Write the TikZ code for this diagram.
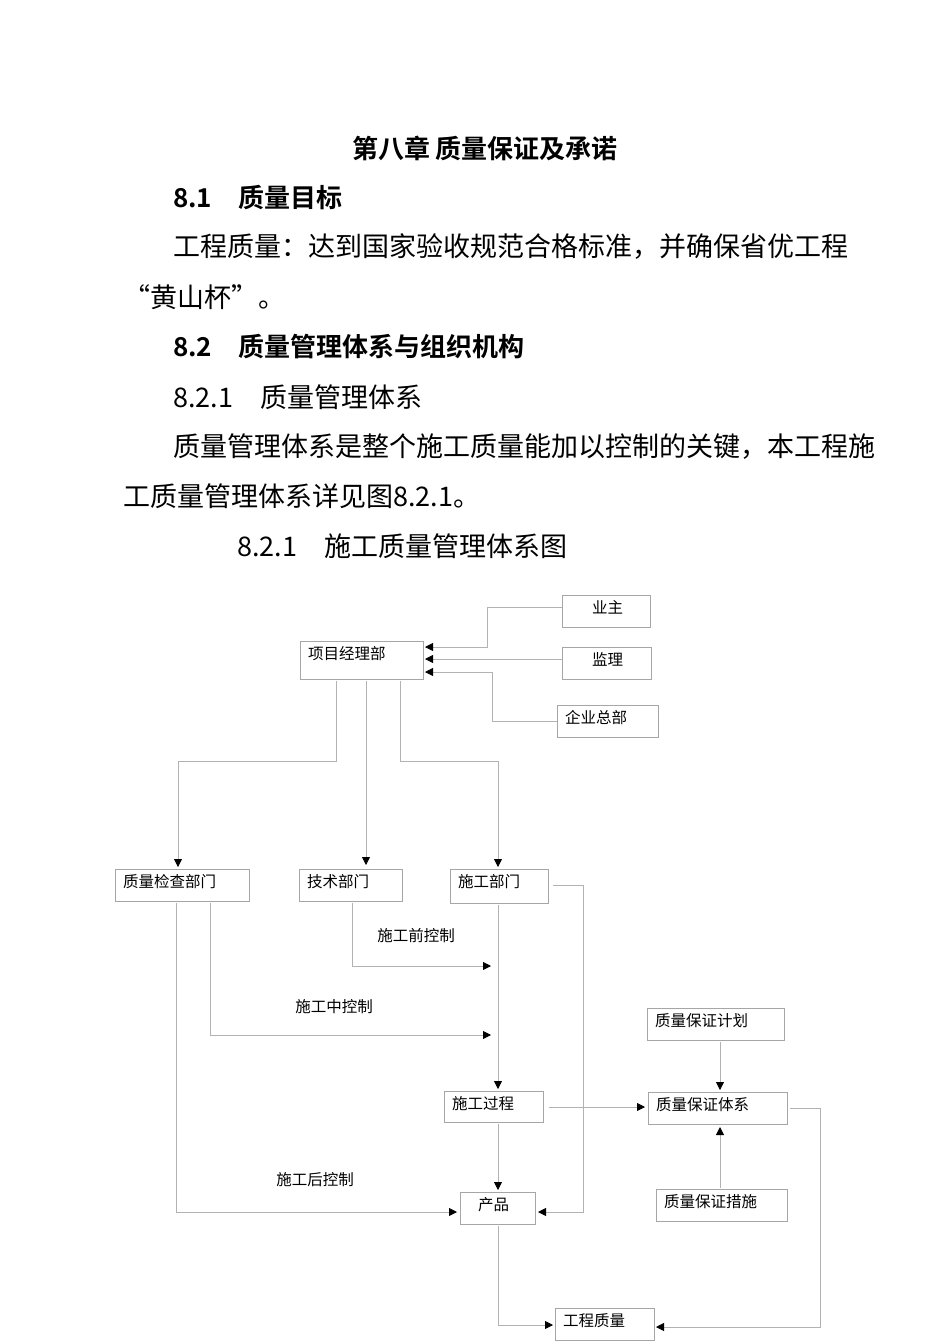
\documentclass[tikz,border=0pt]{standalone}
\usepackage{fontspec}
\setmainfont{Noto Sans CJK SC}
\newfontfamily\cjkb{Noto Sans CJK SC Bold}
\usetikzlibrary{arrows.meta}
\begin{document}
\begin{tikzpicture}[x=1pt,y=-1pt,
 bx/.style={draw=gray!70,line width=0.8pt},
 bt/.style={anchor=north west,font=\fontsize{15.5}{17}\selectfont,inner sep=0pt},
 ln/.style={draw=gray!60,line width=0.8pt},
 ar/.style={ln,-{Triangle[length=8pt,width=8pt,black]}},
 body/.style={anchor=west,inner sep=0pt,font=\fontsize{27}{30}\selectfont},
 lab/.style={font=\fontsize{15.5}{17}\selectfont,inner sep=0pt}]
\useasboundingbox (0,0) rectangle (950,1344);
\node[body,anchor=center,font=\cjkb\fontsize{26}{30}\selectfont] (t0) at (485,148) {第八章 质量保证及承诺};
\node[body,font=\cjkb\fontsize{26}{30}\selectfont] (t1) at (173,198) {8.1\hspace{1em}质量目标};
\node[body] (t2) at (173,247) {工程质量：达到国家验收规范合格标准，并确保省优工程};
\node[body] (t3) at (123,297) {“黄山杯”。};
\node[body,font=\cjkb\fontsize{26}{30}\selectfont] (t4) at (173,347) {8.2\hspace{1em}质量管理体系与组织机构};
\node[body] (t5) at (173,397) {8.2.1\hspace{1em}质量管理体系};
\node[body] (t6) at (173,447) {质量管理体系是整个施工质量能加以控制的关键，本工程施};
\node[body] (t7) at (123,496) {工质量管理体系详见图8.2.1。};
\node[body] (t8) at (237,546) {8.2.1\hspace{1em}施工质量管理体系图};
% boxes
\newcommand\mybox[6]{\draw[bx] (#2,#3) rectangle (#4,#5); \node[bt] (#1) at (#2+8,#3+5) {#6}; \coordinate (#1a) at (#2,#3); \coordinate (#1b) at (#4,#5);}
\mybox{yz}{562}{595}{650}{627}{\hspace{22pt}业主}
\mybox{jl}{562}{647}{651}{679}{\hspace{22pt}监理}
\mybox{qy}{557}{705}{658}{737}{企业总部}
\mybox{xm}{300}{641}{423}{679}{项目经理部}
\mybox{zj}{115}{869}{249}{901}{质量检查部门}
\mybox{js}{299}{869}{402}{901}{技术部门}
\mybox{sg}{450}{869}{548}{903}{施工部门}
\mybox{jh}{647}{1008}{784}{1040}{质量保证计划}
\mybox{gc}{444}{1091}{543}{1122}{施工过程}
\mybox{tx}{648}{1092}{787}{1124}{质量保证体系}
\mybox{cp}{460}{1192}{535}{1224}{\hspace{10pt}产品}
\mybox{cs}{656}{1189}{787}{1221}{质量保证措施}
\mybox{gz}{555}{1308}{654}{1340}{工程质量}
% connectors
\draw[ar] (562,607) -- (487,607) -- (487,647) -- (425,647);
\draw[ar] (562,659) -- (425,659);
\draw[ar] (557,721) -- (492,721) -- (492,672) -- (425,672);
\draw[ar] (336,681) -- (336,761) -- (178,761) -- (178,867);
\draw[ar] (366,681) -- (366,865);
\draw[ar] (400,681) -- (400,761) -- (498,761) -- (498,867);
\draw[ar] (352,903) -- (352,966) -- (491,966);
\node[lab] (l1) at (416,936) {施工前控制};
\draw[ar] (210,903) -- (210,1035) -- (491,1035);
\node[lab] (l2) at (334,1007) {施工中控制};
\draw[ar] (498,905) -- (498,1089);
\draw[ar] (549,1107) -- (645,1107);
\draw[ar] (720,1042) -- (720,1090);
\draw[ar] (720,1188) -- (720,1127);
\draw[ar] (498,1124) -- (498,1190);
\draw[ar] (176,903) -- (176,1212) -- (457,1212);
\node[lab] (l3) at (315,1180) {施工后控制};
\draw[ar] (553,885) -- (583,885) -- (583,1212) -- (538,1212);
\draw[ar] (498,1226) -- (498,1325) -- (553,1325);
\draw[ar] (790,1108) -- (820,1108) -- (820,1327) -- (656,1327);
\end{tikzpicture}
\end{document}
